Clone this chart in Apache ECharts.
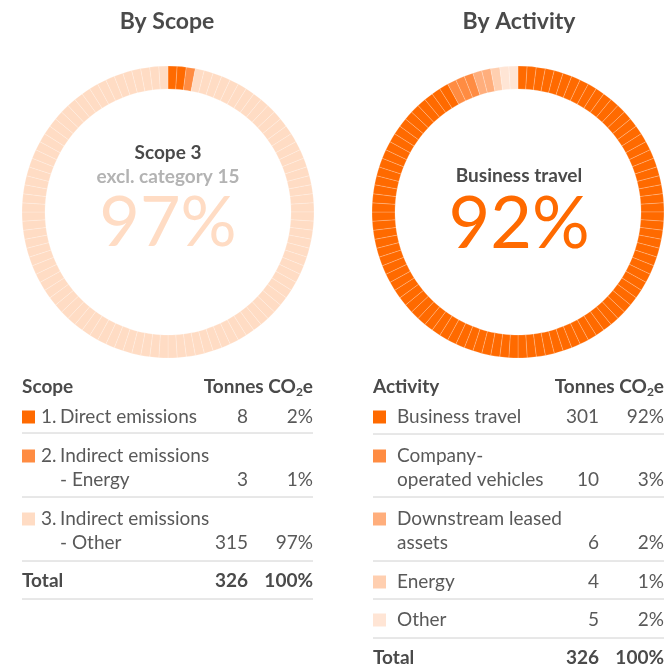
<!DOCTYPE html>
<html>
<head>
<meta charset="utf-8">
<script src="https://cdn.jsdelivr.net/npm/echarts@6/dist/echarts.min.js"></script>
<style>
  html, body { margin: 0; padding: 0; background: #fff; }
  #main { width: 668px; height: 672px; }
</style>
</head>
<body>
<div id="main"></div>
<script>
// 数据
const scopeNames = ['1. Direct emissions', '2. Indirect emissions - Energy', '3. Indirect emissions - Other'];
const scopeTonnes = [8, 3, 315];
const scopePct = [2, 1, 97];
const scopeColors = ['#ff6a00', '#ff8c42', '#ffdcc4'];

const activityNames = ['Business travel', 'Company-operated vehicles', 'Downstream leased assets', 'Energy', 'Other'];
const activityTonnes = [301, 10, 6, 4, 5];
const activityPct = [92, 3, 2, 1, 2];
const activityColors = ['#ff6a00', '#ff8c42', '#ffae7c', '#ffcfb0', '#ffe5d5'];

const totalTonnes = 326;
const totalPct = 100;

const FONT = 'Lato, "Open Sans", sans-serif';
const DARK = '#4a4a4a';
const BODY = '#595959';
const LINE = '#d0d0d0';

// 每 1% 一个小格子
function segments(names, pct, colors) {
  let out = [];
  pct.forEach(function (p, i) {
    for (let k = 0; k < p; k++) {
      out.push({ name: names[i], value: 1, itemStyle: { color: colors[i] } });
    }
  });
  return out;
}

function donut(cx, data) {
  return {
    type: 'pie',
    center: [cx, 212],
    radius: [123, 146],
    startAngle: 90,
    clockwise: true,
    silent: true,
    animation: false,
    label: { show: false },
    labelLine: { show: false },
    itemStyle: {
      borderColor: 'rgba(255,255,255,0.4)',
      borderWidth: 0.5
    },
    data: data
  };
}

function txt(x, y, s, opt) {
  opt = opt || {};
  return {
    type: 'text',
    x: x,
    y: y,
    style: {
      text: s,
      font: (opt.weight || 'normal') + ' ' + (opt.size || 19) + 'px ' + FONT,
      fill: opt.color || BODY,
      align: opt.align || 'left',
      verticalAlign: 'middle'
    }
  };
}

function hline(x1, x2, y) {
  return {
    type: 'line',
    shape: { x1: x1, y1: y, x2: x2, y2: y },
    style: { stroke: LINE, lineWidth: 1 }
  };
}

function square(x, y, color) {
  return {
    type: 'rect',
    shape: { x: x, y: y - 6.5, width: 13, height: 13 },
    style: { fill: color }
  };
}

function co2Header(xRight, y) {
  return {
    type: 'text',
    x: xRight,
    y: y,
    style: {
      text: '{a|Tonnes CO}{s|2}{a|e}',
      align: 'right',
      verticalAlign: 'middle',
      rich: {
        a: { font: 'bold 19px ' + FONT, fill: DARK },
        s: { font: 'bold 12px ' + FONT, fill: DARK, padding: [10, 0, 0, 0] }
      }
    }
  };
}

let g = [];

// 标题
g.push(txt(167, 22, 'By Scope', { size: 23, weight: 'bold', color: DARK, align: 'center' }));
g.push(txt(519, 22, 'By Activity', { size: 23, weight: 'bold', color: DARK, align: 'center' }));

// 圆环中间的文字
g.push(txt(168, 153, 'Scope 3', { size: 19, weight: 'bold', color: DARK, align: 'center' }));
g.push(txt(168, 177, 'excl. category 15', { size: 19, weight: 'bold', color: '#b3b3b3', align: 'center' }));
g.push(txt(168, 223, scopePct[2] + '%', { size: 70, color: scopeColors[2], align: 'center' }));
g.push(txt(519, 176, activityNames[0], { size: 19, weight: 'bold', color: DARK, align: 'center' }));
g.push(txt(519, 225, activityPct[0] + '%', { size: 72, color: activityColors[0], align: 'center' }));

// 左表
const L0 = 22, L1 = 313, LN = 248;
g.push(txt(L0, 387, 'Scope', { weight: 'bold', color: DARK }));
g.push(co2Header(L1, 387));

const scopeRows = [
  { lines: ['Direct emissions'], num: '1.', y: [417], sep: 433 },
  { lines: ['Indirect emissions', '- Energy'], num: '2.', y: [456, 480], sep: 497 },
  { lines: ['Indirect emissions', '- Other'], num: '3.', y: [519, 543], sep: 561 }
];
scopeRows.forEach(function (r, i) {
  g.push(square(L0, r.y[0], scopeColors[i]));
  g.push(txt(41, r.y[0], r.num));
  r.lines.forEach(function (s, j) { g.push(txt(60, r.y[j], s)); });
  const yv = r.y[r.y.length - 1];
  g.push(txt(LN, yv, String(scopeTonnes[i]), { align: 'right' }));
  g.push(txt(L1, yv, scopePct[i] + '%', { align: 'right' }));
  g.push(hline(L0, L1, r.sep));
});
g.push(txt(L0, 581, 'Total', { weight: 'bold', color: DARK }));
g.push(txt(LN, 581, String(totalTonnes), { weight: 'bold', color: DARK, align: 'right' }));
g.push(txt(L1, 581, totalPct + '%', { weight: 'bold', color: DARK, align: 'right' }));
g.push(hline(L0, L1, 599));

// 右表
const R0 = 373, R1 = 664, RN = 599;
g.push(txt(R0, 387, 'Activity', { weight: 'bold', color: DARK }));
g.push(co2Header(R1, 387));

const actRows = [
  { lines: ['Business travel'], y: [417], sep: 434 },
  { lines: ['Company-', 'operated vehicles'], y: [456, 480], sep: 497 },
  { lines: ['Downstream leased', 'assets'], y: [519, 543], sep: 561 },
  { lines: ['Energy'], y: [582], sep: 599 },
  { lines: ['Other'], y: [620], sep: 638 }
];
actRows.forEach(function (r, i) {
  g.push(square(R0, r.y[0], activityColors[i]));
  r.lines.forEach(function (s, j) { g.push(txt(397, r.y[j], s)); });
  const yv = r.y[r.y.length - 1];
  g.push(txt(RN, yv, String(activityTonnes[i]), { align: 'right' }));
  g.push(txt(R1, yv, activityPct[i] + '%', { align: 'right' }));
  g.push(hline(R0, R1, r.sep));
});
g.push(txt(R0, 658, 'Total', { weight: 'bold', color: DARK }));
g.push(txt(RN, 658, String(totalTonnes), { weight: 'bold', color: DARK, align: 'right' }));
g.push(txt(R1, 658, totalPct + '%', { weight: 'bold', color: DARK, align: 'right' }));

const chart = echarts.init(document.getElementById('main'), null, { renderer: 'canvas' });
chart.setOption({
  animation: false,
  series: [
    donut(168, segments(scopeNames, scopePct, scopeColors)),
    donut(518, segments(activityNames, activityPct, activityColors))
  ],
  graphic: { elements: g }
});
</script>
</body>
</html>
